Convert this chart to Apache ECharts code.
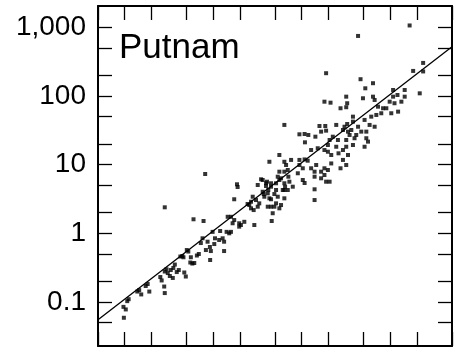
<!DOCTYPE html>
<html><head><meta charset="utf-8">
<script src="https://cdn.jsdelivr.net/npm/echarts@6/dist/echarts.min.js"></script>
<style>html,body{margin:0;padding:0;background:#fff}#c{width:455px;height:353px}</style>
</head><body><div id="c"></div>
<script>
const chartTitle = 'Putnam';
// scatter points [x, y] in data units (both axes logarithmic)
const points = [
[0.98,0.059],[0.97,0.085],[1.03,0.078],[1.07,0.103],[1.11,0.11],[1.39,0.142],[1.46,0.149],[1.54,0.129],[1.73,0.171],[1.82,0.183],
[1.90,0.142],[2.53,0.231],[2.62,0.206],[2.84,0.278],[2.80,0.168],[2.84,0.135],[3.07,0.264],[3.24,0.239],[3.32,0.292],[3.50,0.224],
[3.55,0.313],[3.69,0.351],[3.88,0.273],[4.09,0.292],[4.26,0.459],[4.48,0.467],[4.72,0.269],[4.91,0.235],[5.24,0.543],[5.52,0.376],
[5.82,0.363],[6.12,0.37],[6.55,0.475],[6.89,0.50],[2.84,2.39],[6.00,1.60],[4.62,0.448],[5.04,0.571],[5.60,0.448],[2.97,0.30],
[7.26,0.722],[8.13,7.30],[7.79,1.51],[7.59,0.846],[8.28,0.571],[8.65,0.755],[9.25,0.409],[9.42,0.552],[9.19,0.632],[9.86,1.05],
[10.3,0.698],[10.5,0.846],[11.7,0.80],[12.8,0.846],[13.3,0.755],[12.0,1.08],[13.3,0.552],[14.2,1.05],[15.2,1.0],[14.6,1.74],
[15.9,1.74],[16.6,1.40],[17.3,1.56],[17.3,3.13],[18.6,5.17],[18.9,4.72],[19.7,1.40],[19.7,1.25],[24.5,2.67],[26.8,2.31],
[20.6,1.32],[15.9,1.05],
[22.5,1.47],[25.6,2.58],[26.8,2.88],[28.7,2.18],[29.2,1.32],[28.0,3.41],[30.5,3.05],[31.9,2.44],[31.9,5.05],[33.2,2.73],
[34.8,6.11],[36.3,4.03],[37.3,3.73],[37.9,3.41],[39.6,5.35],[39.6,4.88],[41.4,3.82],[41.4,2.44],[42.0,4.27],[43.2,11.0],
[45.1,4.77],[45.1,3.13],[45.1,2.44],[45.9,1.51],[47.1,1.96],[49.2,2.44],[49.2,3.73],[51.4,5.35],[51.4,4.27],[51.4,2.73],
[53.7,6.67],[53.7,3.41],[56.0,13.8],[56.0,7.89],[56.0,5.97],[56.0,2.31],[58.5,6.32],[58.5,2.58],[36.3,5.97],[40.6,5.64],
[45.1,5.35],[43.2,3.23],
[63.8,37.8],[63.8,11.0],[66.7,9.87],[63.8,7.89],[69.7,8.35],[70.8,6.67],[63.8,5.35],[65.0,4.77],[72.7,5.64],[63.8,4.27],
[63.8,3.23],[76.0,11.7],[79.4,4.77],[90.5,7.48],[94.4,27.6],[94.4,11.7],[94.4,9.87],[103,8.84],[103,5.97],[108,5.40],
[108,27.9],[109,21.1],[119,27.0],[108,11.9],[117,11.4],[128,16.3],[128,8.84],[140,7.89],[140,6.67],[140,4.37],
[140,3.05],[143,25.5],[146,9.87],[152,17.3],[159,36.5],[166,30.2],[166,7.89],[166,6.32],[181,8.84],[181,16.3],
[69.7,4.27],[61.2,4.27],[181,7.06],
[181,82.4],[189,214],[185,36.5],[189,31.2],[189,5.64],[198,19.3],[198,15.4],[198,8.35],[207,22.8],[207,5.64],
[212,79.7],[216,10.4],[225,25.5],[246,37.8],[246,18.2],[257,22.8],[261,14.6],[275,66.1],[275,8.84],[293,31.9],
[293,16.3],[293,11.7],[305,35.6],[319,97.5],[319,68.4],[319,22.8],[319,18.2],[319,9.87],[327,78.2],[327,39.0],
[334,30.2],[334,13.8],[348,27.0],[364,31.9],[380,49.9],[380,42.2],[380,19.3],[396,24.2],[414,27.0],[434,746],
[434,35.6],[216,13.8],
[463,175],[472,30.2],[493,92.4],[514,44.7],[514,18.2],[524,129],[538,30.2],[538,24.2],[562,21.6],[586,37.8],
[612,49.9],[640,153],[640,97.5],[668,87.3],[668,35.6],[698,52.8],[729,69.7],[794,55.9],[906,66.1],[988,82.4],
[1030,55.9],[1080,122],[1080,97.5],[1120,78.2],[1210,103],[1230,59.0],[1340,82.4],[1460,122],[1460,97.5],[1660,1060],
[1820,231],[2160,109],[2360,302],[2360,227],[832,66.1]
];
// fitted line end points
const lineX = [0.5, 5000];
const lineY = [0.055, 520];
// axis ranges and ticks
const xRange = [0.5, 5000];
const yRange = [0.0229, 2035];
const xTicks = [0.5, 1, 2, 5, 10, 20, 50, 100, 200, 500, 1000, 2000, 5000];
const yTicks = [0.05, 0.1, 0.2, 0.5, 1, 2, 5, 10, 20, 50, 100, 200, 500, 1000];
const yLabels = [0.1, 1, 10, 100, 1000];

const L = Math.log10;
const FONT = '"Liberation Sans", Arial, Helvetica, sans-serif';
function fmt(v) {
  const n = Math.round(Math.pow(10, v) * 1000) / 1000;
  return n.toLocaleString('en-US', {maximumFractionDigits: 3});
}
function axisBase(pos, range, ticks) {
  return {
    type: 'value', position: pos,
    min: L(range[0]), max: L(range[1]),
    axisLine: {show: true, onZero: false, lineStyle: {color: '#000', width: 2}},
    axisTick: {show: true, inside: true, length: 14, customValues: ticks.map(L), lineStyle: {color: '#000', width: 1.3}},
    axisLabel: {show: false},
    splitLine: {show: false}
  };
}
const yLeft = axisBase('left', yRange, yTicks);
yLeft.axisLabel = {show: true, customValues: yLabels.map(L), formatter: fmt, fontSize: 28, color: '#000', fontFamily: FONT, margin: 12};

const chart = echarts.init(document.getElementById('c'), null, {renderer: 'canvas'});
chart.setOption({
  animation: false,
  backgroundColor: '#fff',
  title: {text: chartTitle, left: 119, top: 31, padding: 0,
    textStyle: {fontSize: 35, fontWeight: 'normal', color: '#000', fontFamily: FONT}},
  grid: {left: 98, right: 3, top: 6, bottom: 7, containLabel: false},
  xAxis: [axisBase('bottom', xRange, xTicks), axisBase('top', xRange, xTicks)],
  yAxis: [yLeft, axisBase('right', yRange, yTicks)],
  series: [
    {type: 'line', xAxisIndex: 0, yAxisIndex: 0, symbol: 'none', silent: true,
     lineStyle: {color: '#000', width: 1.3},
     data: lineX.map((x, i) => [L(x), L(lineY[i])])},
    {type: 'scatter', xAxisIndex: 0, yAxisIndex: 0, symbol: 'rect', symbolSize: 4, silent: true,
     itemStyle: {color: '#000'},
     data: points.map(p => [L(p[0]), L(p[1])])}
  ]
});
</script></body></html>
